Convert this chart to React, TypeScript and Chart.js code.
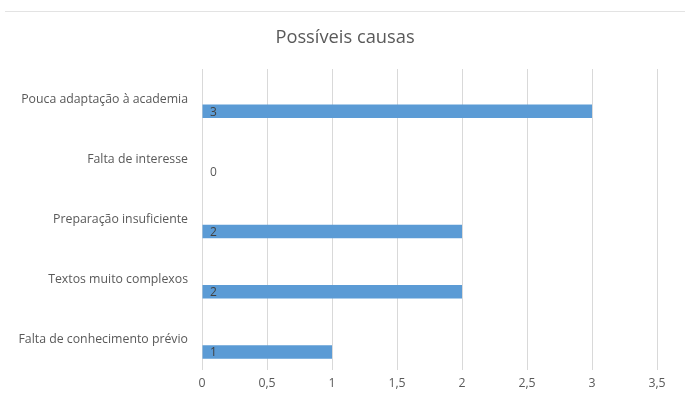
import React, { useEffect, useRef } from "react";
import { Chart, registerables } from "chart.js";

Chart.register(...registerables);

const categories = [
  "Pouca adaptação à academia",
  "Falta de interesse",
  "Preparação insuficiente",
  "Textos muito complexos",
  "Falta de conhecimento prévio",
];
const values = [3, 0, 2, 2, 1];
const placeholder = [null, null, null, null, null];
const chartTitle = "Possíveis causas";
const xMax = 3.5;
const xStep = 0.5;

const FONT = "'Open Sans', 'DejaVu Sans', sans-serif";
const TEXT = "#595959";

const extras = {
  id: "extras",
  afterDraw(chart: any) {
    const ctx = chart.ctx;
    ctx.save();
    ctx.strokeStyle = "#e3e3e3";
    ctx.lineWidth = 1;
    ctx.beginPath();
    ctx.moveTo(5, 11.5);
    ctx.lineTo(685, 11.5);
    ctx.stroke();
    ctx.fillStyle = TEXT;
    ctx.font = `18.3px ${FONT}`;
    ctx.textAlign = "center";
    ctx.textBaseline = "middle";
    ctx.fillText(chartTitle, 345, 38);
    const meta = chart.getDatasetMeta(1);
    const xs = chart.scales.x;
    ctx.font = `12px ${FONT}`;
    ctx.textAlign = "left";
    meta.data.forEach((bar: any, i: number) => {
      const v = values[i];
      ctx.fillStyle = v > 0 ? "#404040" : TEXT;
      ctx.fillText(String(v), xs.getPixelForValue(0) + 8, bar.y + 1);
    });
    ctx.restore();
  },
};

export default function App() {
  const ref = useRef<HTMLCanvasElement>(null);
  useEffect(() => {
    const chart = new Chart(ref.current!, {
      type: "bar",
      data: {
        labels: categories,
        datasets: [
          { data: placeholder as any, backgroundColor: "transparent" },
          {
            data: values,
            backgroundColor: "#5B9BD5",
            categoryPercentage: 0.8,
            barPercentage: 0.56,
          },
        ],
      },
      options: {
        indexAxis: "y",
        animation: false,
        responsive: false,
        datasets: { bar: { categoryPercentage: 0.8, barPercentage: 0.56 } },
        layout: { padding: { top: 69, right: 28, bottom: 0, left: 0 } },
        plugins: {
          legend: { display: false },
          title: { display: false },
          tooltip: { enabled: false },
        },
        scales: {
          x: {
            min: 0,
            max: xMax,
            ticks: {
              stepSize: xStep,
              padding: 6,
              color: TEXT,
              font: { family: FONT, size: 12.3 },
              callback: (v: any) => String(v).replace(".", ","),
            },
            grid: { color: "#d9d9d9", drawTicks: false },
            border: { display: false },
            afterFit: (s: any) => {
              s.height = 31;
            },
          },
          y: {
            ticks: {
              padding: 14,
              color: TEXT,
              font: { family: FONT, size: 12.3 },
            },
            grid: { display: false, drawTicks: false },
            border: { display: false },
            afterFit: (s: any) => {
              s.width = 202;
            },
          },
        },
      },
      plugins: [extras],
    });
    return () => chart.destroy();
  }, []);
  return (
    <div style={{ position: "absolute", left: 0, top: 0, width: 685, height: 401, background: "#fff" }}>
      <canvas ref={ref} width={685} height={401} />
    </div>
  );
}
